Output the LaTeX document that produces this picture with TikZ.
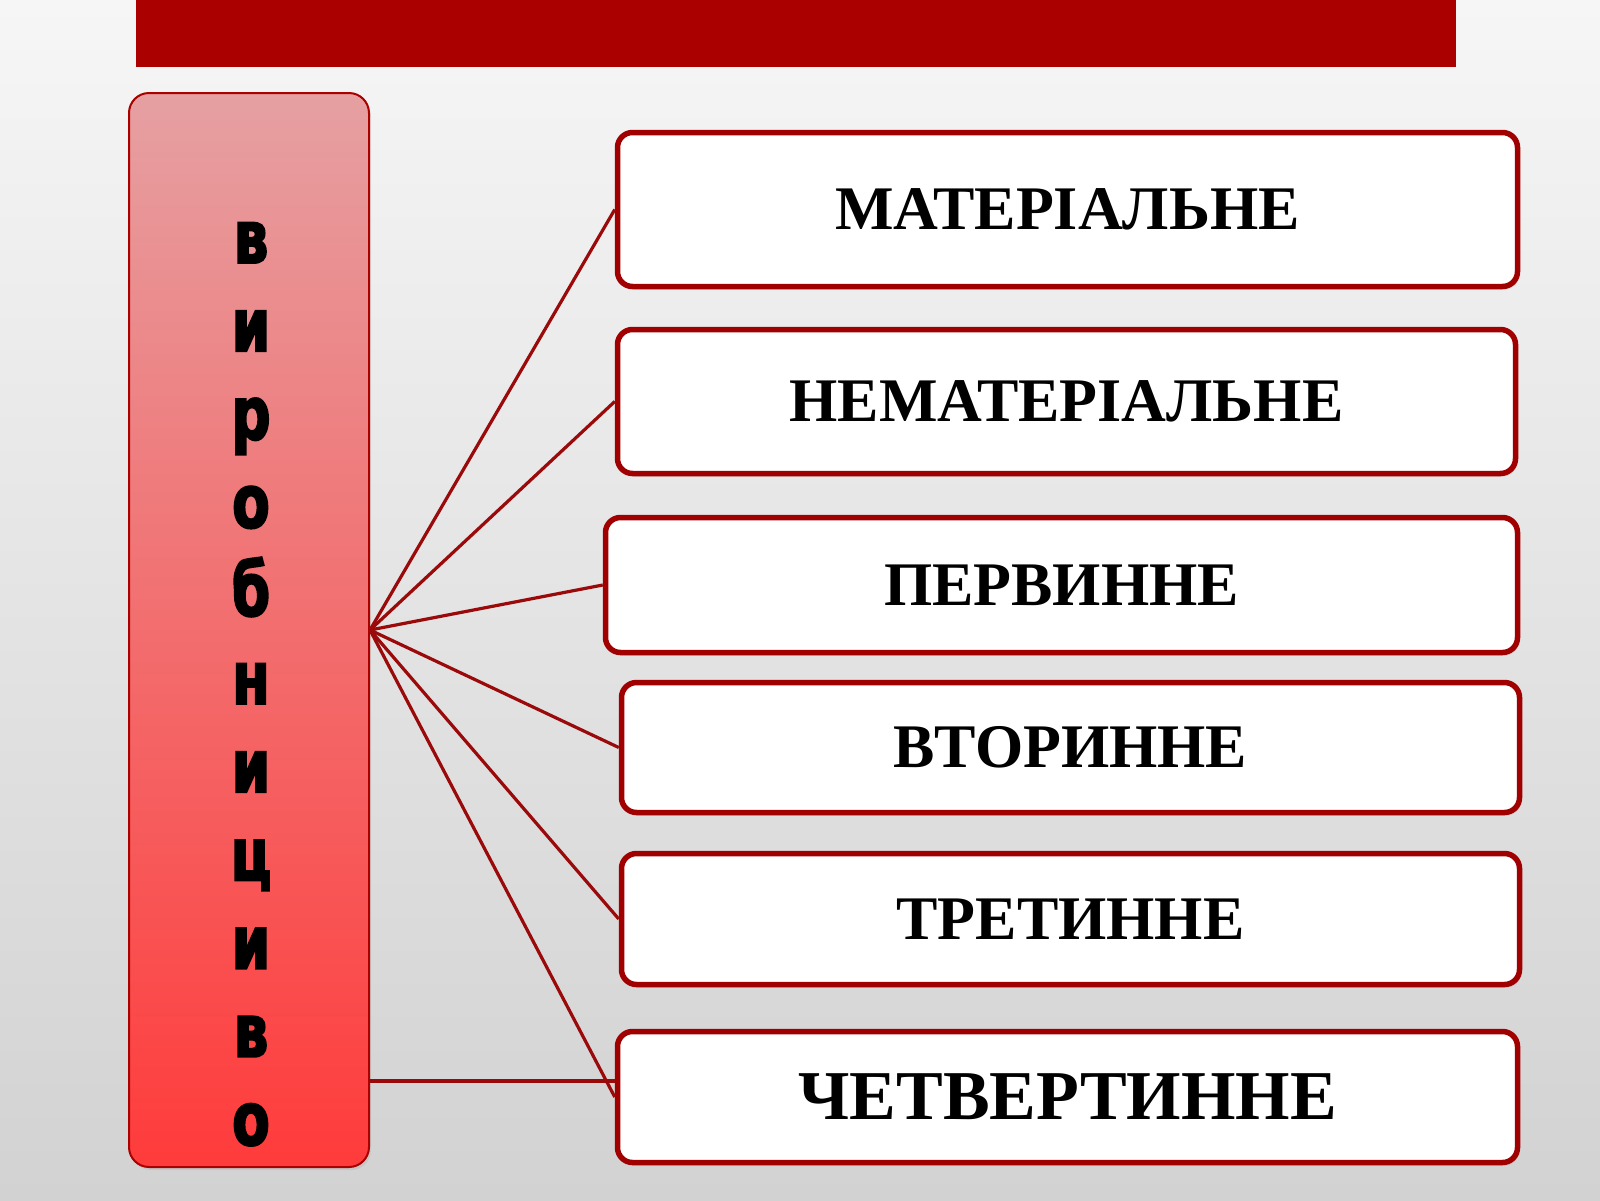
\documentclass[tikz,border=0pt]{standalone}
\usepackage{fontspec}
\setmainfont{Liberation Serif}
\newfontfamily\impfont{DejaVu Sans}[FakeStretch=0.74, FakeBold=2.5]
\usetikzlibrary{shadows}
\definecolor{barred}{HTML}{AB0000}
\definecolor{boxred}{HTML}{A00000}
\definecolor{linkred}{HTML}{9A0A0A}
\definecolor{lbtop}{HTML}{E6A0A2}
\definecolor{lbbot}{HTML}{FF3B3B}
\definecolor{bgtop}{HTML}{F6F6F6}
\definecolor{bgbot}{HTML}{D2D2D2}
\begin{document}
\begin{tikzpicture}[x=1pt,y=-1pt,
  catbox/.style={draw=boxred, line width=5.5pt, fill=white, rounded corners=15pt,
    inner sep=0pt, font=\fontsize{62}{62}\selectfont\bfseries,
    drop shadow={opacity=0.18, shadow xshift=2pt, shadow yshift=-3pt}},
  link/.style={draw=linkred, line width=3.2pt},
  letter/.style={anchor=base, inner sep=0pt, font=\impfont\bfseries\fontsize{74}{74}\selectfont}]
\useasboundingbox (0,0) rectangle (1600,1200);
\shade[top color=bgtop, bottom color=bgbot] (0,0) rectangle (1600,1200);
% top bar
\fill[barred] (136,0) rectangle (1456,67);
% left box
\node[draw=boxred!90!red, line width=2pt, rounded corners=20pt, top color=lbtop, bottom color=lbbot,
  minimum width=240pt, minimum height=1074pt, inner sep=0pt,
  drop shadow={opacity=0.15, shadow xshift=2pt, shadow yshift=-3pt}] (lb) at (249,630) {};
\foreach \ch [count=\i from 0] in {в,и,р,о,б,н,и,ц,и,в,о}
  \node[letter] (l\i) at (251, {263+88.2*\i}) {\ch};
% category boxes
\node[catbox, minimum width=900pt, minimum height=154pt] (b1) at (1067.5,209.5) {МАТЕРІАЛЬНЕ};
\node[catbox, minimum width=898pt, minimum height=144pt] (b2) at (1066.5,401.5) {НЕМАТЕРІАЛЬНЕ};
\node[catbox, minimum width=912pt, minimum height=135pt] (b3) at (1061.5,585) {ПЕРВИННЕ};
\node[catbox, minimum width=898pt, minimum height=130pt] (b4) at (1070.5,747.5) {ВТОРИННЕ};
\node[catbox, minimum width=898pt, minimum height=131pt] (b5) at (1070.5,919) {ТРЕТИННЕ};
\node[catbox, minimum width=900pt, minimum height=131pt, font=\fontsize{70}{70}\selectfont\bfseries] (b6) at (1067.5,1097) {ЧЕТВЕРТИННЕ};
% connectors
\coordinate (h6) at ([yshift=16pt]b6.west);
\foreach \b in {b1,b2,b3,b4,b5,b6}
  \draw[link] (lb.east) -- (\b.west);
\draw[link] (h6 -| lb.east) -- (h6);
\end{tikzpicture}
\end{document}
